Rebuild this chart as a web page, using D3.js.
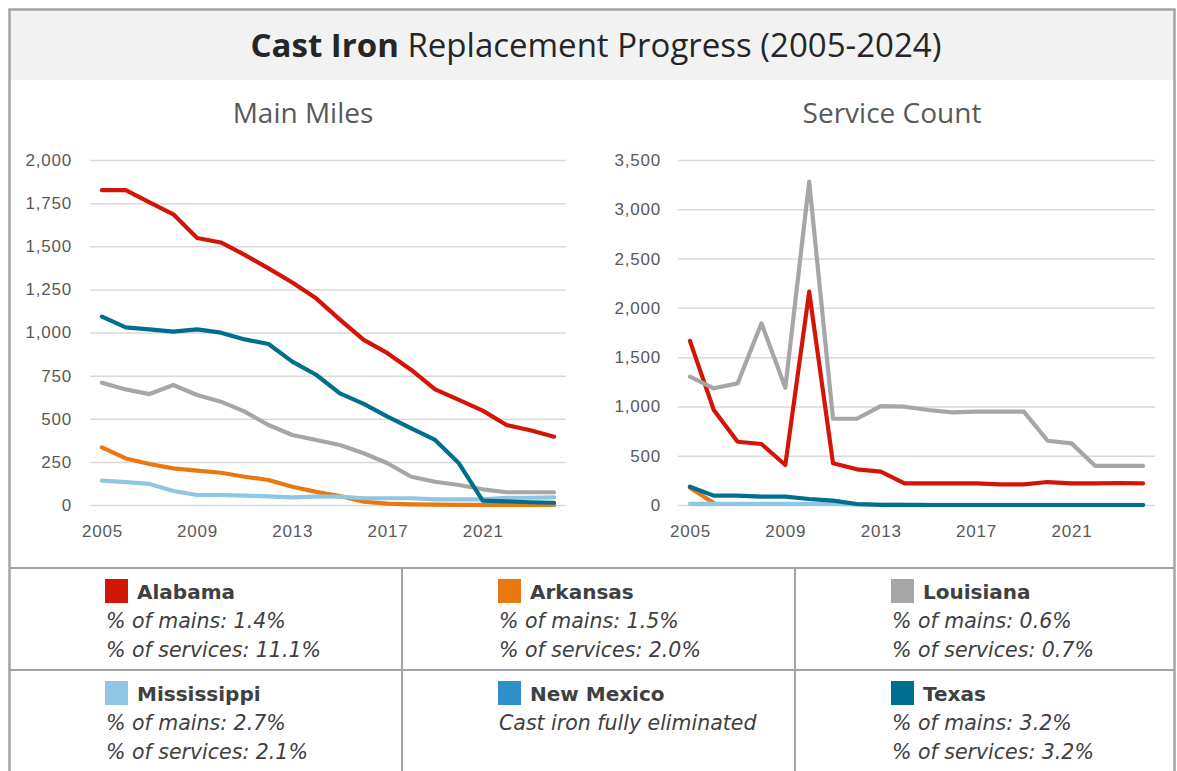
<!DOCTYPE html>
<html>
<head>
<meta charset="utf-8">
<script src="https://cdn.jsdelivr.net/npm/d3@7/dist/d3.min.js"></script>
<style>
  html, body { margin: 0; padding: 0; background: #ffffff; }
  svg { display: block; }
</style>
</head>
<body>
<svg id="chart" width="1177" height="771"></svg>
<script>
// ---- Data ----
const years = [2005, 2006, 2007, 2008, 2009, 2010, 2011, 2012, 2013, 2014,
               2015, 2016, 2017, 2018, 2019, 2020, 2021, 2022, 2023, 2024];
const yearTicks = [2005, 2009, 2013, 2017, 2021];

const states = ["Alabama", "Arkansas", "Louisiana", "Mississippi", "New Mexico", "Texas"];
const stateColors = ["#d21506", "#e9780f", "#a6a6a6", "#8ec6e3", "#2f8fcb", "#006f8f"];

// Cast iron main miles remaining (null = nothing reported)
const mainAlabama     = [1825, 1825, 1755, 1685, 1548, 1522, 1450, 1372, 1290, 1198, 1075, 957, 880, 783, 670, 609, 547, 464, 433, 396];
const mainArkansas    = [334, 270, 238, 212, 199, 187, 164, 145, 106, 76, 52, 19, 8, 4, 2, 1, 1, 1, 0, 0];
const mainLouisiana   = [709, 670, 643, 696, 638, 599, 541, 464, 406, 377, 348, 300, 242, 164, 135, 116, 91, 74, 74, 74];
const mainMississippi = [141, 133, 122, 81, 58, 58, 54, 50, 44, 48, 48, 39, 39, 39, 33, 33, 33, 42, 42, 44];
const mainNewMexico   = [null, null, null, null, null, null, null, null, null, null, null, null, null, null, null, null, null, null, null, null];
const mainTexas       = [1092, 1030, 1018, 1005, 1018, 999, 960, 933, 831, 755, 647, 586, 512, 444, 377, 242, 25, 21, 16, 13];

// Cast iron service line counts remaining
const serviceAlabama     = [1665, 964, 642, 619, 406, 2164, 423, 362, 338, 220, 220, 220, 220, 210, 210, 233, 220, 220, 223, 220];
const serviceArkansas    = [175, 20, null, null, null, null, null, null, null, null, null, null, null, null, null, null, null, null, null, null];
const serviceLouisiana   = [1302, 1184, 1234, 1843, 1190, 3280, 875, 875, 1004, 997, 964, 940, 947, 947, 947, 652, 625, 396, 396, 396];
const serviceMississippi = [12, 12, 12, 12, 12, 12, 12, 5, 2, 2, 2, 2, 2, 2, 2, 2, 2, 2, 2, 2];
const serviceNewMexico   = [null, null, null, null, null, null, null, null, null, null, null, null, null, null, null, null, null, null, null, null];
const serviceTexas       = [186, 95, 95, 85, 85, 61, 44, 10, 2, 1, 0, 0, 0, 0, 0, 0, 0, 0, 0, 0];

const mainTicks = [0, 250, 500, 750, 1000, 1250, 1500, 1750, 2000];
const serviceTicks = [0, 500, 1000, 1500, 2000, 2500, 3000, 3500];

// Legend notes per state
const legendMains    = ["% of mains: 1.4%", "% of mains: 1.5%", "% of mains: 0.6%", "% of mains: 2.7%", "Cast iron fully eliminated", "% of mains: 3.2%"];
const legendServices = ["% of services: 11.1%", "% of services: 2.0%", "% of services: 0.7%", "% of services: 2.1%", "", "% of services: 3.2%"];

// ---- Drawing ----
const svg = d3.select("#chart");
const W = 1177, H = 771;
const borderColor = "#a3a3a3";
const textFont = "'Open Sans', 'Noto Sans', sans-serif";
const legendFont = "'DejaVu Sans', sans-serif";
const axisFont = "'Liberation Sans', Arial, sans-serif";

// Title band
svg.append("rect").attr("x", 10).attr("y", 10).attr("width", 1165).attr("height", 70).attr("fill", "#f2f2f2");

const title = svg.append("text")
  .attr("x", 596).attr("y", 57)
  .attr("text-anchor", "middle")
  .attr("font-family", textFont)
  .attr("font-size", 33)
  .attr("fill", "#262626");
title.append("tspan").attr("font-weight", 700).text("Cast Iron");
title.append("tspan").attr("font-weight", 400).text(" Replacement Progress (2005-2024)");

function drawPanel(cfg) {
  const g = svg.append("g");
  const x = d3.scalePoint().domain(years).range([cfg.x0, cfg.x1]).padding(0.5);
  const y = d3.scaleLinear().domain([0, cfg.max]).range([505, 160]);

  g.append("text")
    .attr("x", cfg.titleX)
    .attr("y", 123)
    .attr("text-anchor", "middle")
    .attr("font-family", textFont)
    .attr("font-size", 28)
    .attr("fill", "#595959")
    .text(cfg.title);

  // gridlines + y labels
  const yAxis = d3.axisLeft(y)
    .tickValues(cfg.ticks)
    .tickSize(-(cfg.x1 - cfg.x0))
    .tickPadding(18)
    .tickFormat(d3.format(","));
  const ya = g.append("g").attr("transform", `translate(${cfg.x0},0)`).call(yAxis);
  ya.select(".domain").remove();
  ya.selectAll(".tick line").attr("stroke", "#d9d9d9").attr("stroke-width", 1.5);
  ya.selectAll(".tick text")
    .attr("font-family", axisFont)
    .attr("font-size", 17)
    .attr("letter-spacing", 0.8)
    .attr("fill", "#595959")
    .attr("x", cfg.labelX - cfg.x0);

  // x labels
  const xAxis = d3.axisBottom(x)
    .tickValues(yearTicks)
    .tickSize(0)
    .tickPadding(20)
    .tickFormat(d3.format("d"));
  const xa = g.append("g").attr("transform", "translate(0,505)").call(xAxis);
  xa.select(".domain").remove();
  xa.selectAll(".tick text")
    .attr("font-family", axisFont)
    .attr("font-size", 17)
    .attr("letter-spacing", 0.8)
    .attr("fill", "#595959");

  const line = d3.line()
    .defined(d => d != null)
    .x((d, i) => x(years[i]))
    .y(d => y(d));

  cfg.series.forEach((vals, i) => {
    g.append("path")
      .datum(vals)
      .attr("d", line)
      .attr("fill", "none")
      .attr("stroke", stateColors[i])
      .attr("stroke-width", 4.2)
      .attr("stroke-linejoin", "round")
      .attr("stroke-linecap", "round");
  });
}

drawPanel({
  title: "Main Miles", x0: 90, x1: 566, max: 2000, ticks: mainTicks, labelX: 72, titleX: 303,
  series: [mainAlabama, mainArkansas, mainLouisiana, mainMississippi, mainNewMexico, mainTexas]
});
drawPanel({
  title: "Service Count", x0: 678, x1: 1155, max: 3500, ticks: serviceTicks, labelX: 661, titleX: 892,
  series: [serviceAlabama, serviceArkansas, serviceLouisiana, serviceMississippi, serviceNewMexico, serviceTexas]
});

// Legend grid
const colX = [9, 402, 795];
const rowY = [568, 670];
const grid = svg.append("g").attr("stroke", borderColor).attr("stroke-width", 2);
grid.append("line").attr("x1", 9).attr("x2", 1175).attr("y1", 568).attr("y2", 568);
grid.append("line").attr("x1", 9).attr("x2", 1175).attr("y1", 670).attr("y2", 670);
grid.append("line").attr("x1", 402).attr("x2", 402).attr("y1", 568).attr("y2", H);
grid.append("line").attr("x1", 795).attr("x2", 795).attr("y1", 568).attr("y2", H);

states.forEach((name, i) => {
  const cx = colX[i % 3];
  const ry = rowY[Math.floor(i / 3)];
  const cell = svg.append("g").attr("transform", `translate(${cx},${ry})`);
  cell.append("rect")
    .attr("x", 96).attr("y", 11).attr("width", 23).attr("height", 24)
    .attr("fill", stateColors[i]);
  cell.append("text")
    .attr("x", 128).attr("y", 31)
    .attr("font-family", legendFont)
    .attr("font-size", 20)
    .attr("font-weight", 700)
    .attr("fill", "#404040")
    .text(name);
  cell.append("text")
    .attr("x", 97).attr("y", 60)
    .attr("font-family", legendFont)
    .attr("font-size", 20.5)
    .attr("font-style", "italic")
    .attr("fill", "#404040")
    .text(legendMains[i]);
  cell.append("text")
    .attr("x", 97).attr("y", 89)
    .attr("font-family", legendFont)
    .attr("font-size", 20.5)
    .attr("font-style", "italic")
    .attr("fill", "#404040")
    .text(legendServices[i]);
});

// Outer frame
svg.append("rect")
  .attr("x", 9.5).attr("y", 9.5).attr("width", 1165).attr("height", 800)
  .attr("fill", "none").attr("stroke", borderColor).attr("stroke-width", 2.5);
</script>
</body>
</html>
